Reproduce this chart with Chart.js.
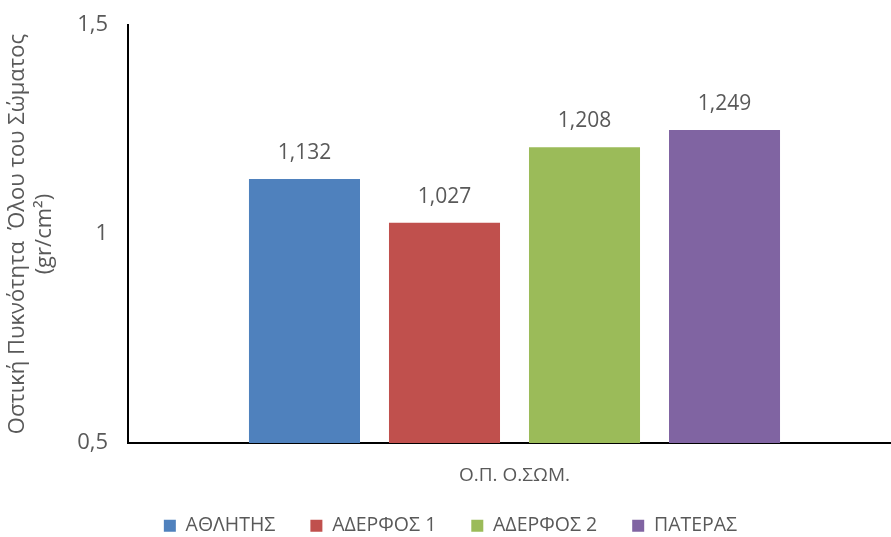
<!DOCTYPE html>
<html>
<head>
<meta charset="utf-8">
<script src="https://cdn.jsdelivr.net/npm/chart.js@4"></script>
<style>
    html, body { margin: 0; padding: 0; background: #fff; overflow: hidden; }
    .chart-box { width: 901px; height: 537px; }
</style>
</head>
<body>
<div class="chart-box"><canvas id="densityChart"></canvas></div>
<script>
const categories = ['Ο.Π. Ο.ΣΩΜ.'];
const seriesNames = ['ΑΘΛΗΤΗΣ', 'ΑΔΕΡΦΟΣ 1', 'ΑΔΕΡΦΟΣ 2', 'ΠΑΤΕΡΑΣ'];
const seriesValues = [[1.132], [1.027], [1.208], [1.249]];
const seriesColors = ['#4F81BD', '#C0504D', '#9BBB59', '#8064A2'];
const yTicks = [0.5, 1, 1.5];

const textGrey = '#595959';
const fontFamily = "'Open Sans', 'Noto Sans', sans-serif";

const fmt = v => String(v).replace('.', ',');

// value labels over each bar
const barLabels = {
    id: 'barLabels',
    afterDatasetsDraw(chart) {
        const ctx = chart.ctx;
        ctx.save();
        ctx.font = `21px ${fontFamily}`;
        ctx.fillStyle = textGrey;
        ctx.textAlign = 'center';
        ctx.textBaseline = 'middle';
        chart.data.datasets.forEach((ds, i) => {
            chart.getDatasetMeta(i).data.forEach((bar, j) => {
                ctx.fillText(fmt(ds.data[j]), bar.x, bar.y - 26);
            });
        });
        ctx.restore();
    }
};

new Chart(document.getElementById('densityChart'), {
    type: 'bar',
    data: {
        labels: categories,
        datasets: seriesNames.map((name, i) => ({
            label: name,
            data: seriesValues[i],
            backgroundColor: seriesColors[i],
            borderWidth: 0,
            categoryPercentage: 0.7245,
            barPercentage: 0.793
        }))
    },
    options: {
        responsive: true,
        maintainAspectRatio: false,
        animation: false,
        layout: { padding: { top: 7, right: 0, left: 0, bottom: 0 } },
        plugins: {
            tooltip: { enabled: false },
            legend: {
                position: 'bottom',
                // wide item spacing, but keep the box short
                maxHeight: 56,
                labels: {
                    color: textGrey,
                    font: { family: fontFamily, size: 19.5 },
                    boxWidth: 12,
                    boxHeight: 12,
                    padding: 35
                }
            }
        },
        scales: {
            x: {
                grid: { display: false },
                border: { color: '#000', width: 2 },
                ticks: {
                    color: textGrey,
                    font: { family: fontFamily, size: 19 },
                    padding: 13,
                    autoSkip: false,
                    maxRotation: 0
                },
                afterFit(scale) { scale.height = 38; }
            },
            y: {
                min: 0.5,
                max: 1.5,
                afterBuildTicks(scale) { scale.ticks = yTicks.map(v => ({ value: v })); },
                grid: { display: false },
                border: { color: '#000', width: 2 },
                ticks: {
                    color: textGrey,
                    font: { family: fontFamily, size: 22 },
                    padding: 12,
                    callback: v => fmt(v)
                },
                title: {
                    display: true,
                    text: ['Οστική Πυκνότητα  Όλου του Σώματος', '(gr/cm²)'],
                    color: textGrey,
                    font: { family: fontFamily, size: 22 },
                    padding: { top: 5, bottom: 0 }
                },
                afterFit(scale) { scale.width = 128; }
            }
        }
    },
    plugins: [barLabels]
});
</script>
</body>
</html>
